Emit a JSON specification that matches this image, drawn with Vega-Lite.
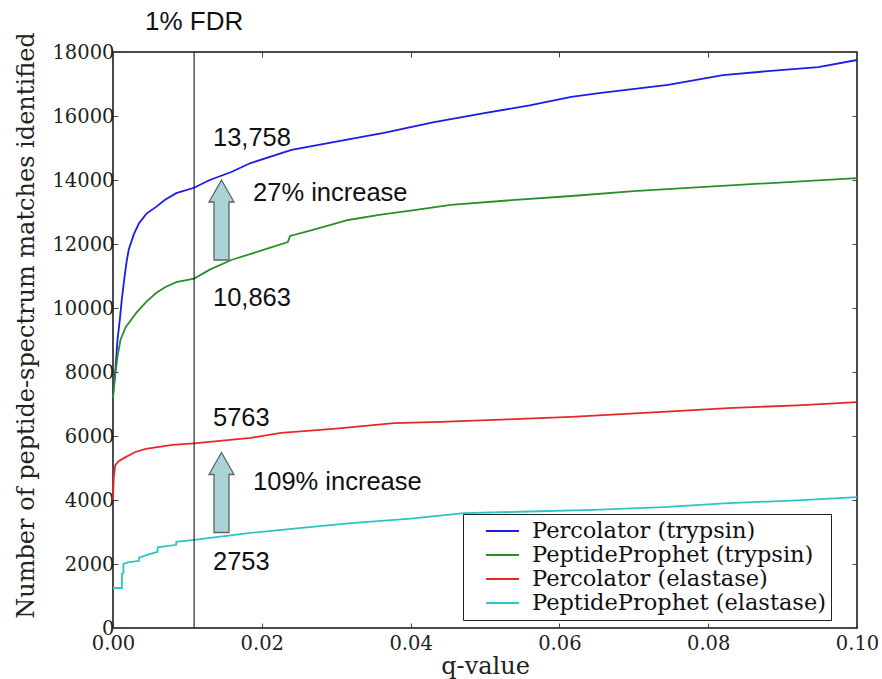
{
  "$schema": "https://vega.github.io/schema/vega-lite/v6.json",
  "width": 744,
  "height": 576,
  "autosize": {"type": "none"},
  "padding": {"left": 113, "top": 52, "right": 25, "bottom": 51},
  "background": "white",
  "config": {
    "view": {"stroke": "#111", "strokeWidth": 1.5},
    "axis": {
      "grid": false, "domain": false,
      "labelFont": "DejaVu Serif", "titleFont": "DejaVu Serif",
      "labelColor": "#222", "titleColor": "#222",
      "tickColor": "#444", "tickSize": -5, "tickWidth": 1,
      "labelFontSize": 19.5, "titleFontSize": 24, "titleFontWeight": "normal"
    }
  },
  "datasets": {
    "curves": [
      {"series": "Percolator (trypsin)", "q": 0.0000, "v": 7300},
      {"series": "Percolator (trypsin)", "q": 0.0003, "v": 8000},
      {"series": "Percolator (trypsin)", "q": 0.0006, "v": 9000},
      {"series": "Percolator (trypsin)", "q": 0.0009, "v": 9600},
      {"series": "Percolator (trypsin)", "q": 0.0012, "v": 10300},
      {"series": "Percolator (trypsin)", "q": 0.0015, "v": 10880},
      {"series": "Percolator (trypsin)", "q": 0.0018, "v": 11400},
      {"series": "Percolator (trypsin)", "q": 0.0021, "v": 11810},
      {"series": "Percolator (trypsin)", "q": 0.0028, "v": 12300},
      {"series": "Percolator (trypsin)", "q": 0.0035, "v": 12650},
      {"series": "Percolator (trypsin)", "q": 0.0045, "v": 12950},
      {"series": "Percolator (trypsin)", "q": 0.0058, "v": 13160},
      {"series": "Percolator (trypsin)", "q": 0.0070, "v": 13380},
      {"series": "Percolator (trypsin)", "q": 0.0085, "v": 13590},
      {"series": "Percolator (trypsin)", "q": 0.0109, "v": 13758},
      {"series": "Percolator (trypsin)", "q": 0.0130, "v": 14000},
      {"series": "Percolator (trypsin)", "q": 0.0159, "v": 14250},
      {"series": "Percolator (trypsin)", "q": 0.0185, "v": 14530},
      {"series": "Percolator (trypsin)", "q": 0.0240, "v": 14940},
      {"series": "Percolator (trypsin)", "q": 0.0300, "v": 15200},
      {"series": "Percolator (trypsin)", "q": 0.0364, "v": 15470},
      {"series": "Percolator (trypsin)", "q": 0.0430, "v": 15800},
      {"series": "Percolator (trypsin)", "q": 0.0499, "v": 16090},
      {"series": "Percolator (trypsin)", "q": 0.0560, "v": 16330},
      {"series": "Percolator (trypsin)", "q": 0.0616, "v": 16600},
      {"series": "Percolator (trypsin)", "q": 0.0656, "v": 16720},
      {"series": "Percolator (trypsin)", "q": 0.0746, "v": 16970},
      {"series": "Percolator (trypsin)", "q": 0.0820, "v": 17280},
      {"series": "Percolator (trypsin)", "q": 0.0880, "v": 17400},
      {"series": "Percolator (trypsin)", "q": 0.0948, "v": 17530},
      {"series": "Percolator (trypsin)", "q": 0.1000, "v": 17750},

      {"series": "PeptideProphet (trypsin)", "q": 0.0000, "v": 7200},
      {"series": "PeptideProphet (trypsin)", "q": 0.0003, "v": 7900},
      {"series": "PeptideProphet (trypsin)", "q": 0.0006, "v": 8470},
      {"series": "PeptideProphet (trypsin)", "q": 0.0010, "v": 9000},
      {"series": "PeptideProphet (trypsin)", "q": 0.0017, "v": 9400},
      {"series": "PeptideProphet (trypsin)", "q": 0.0031, "v": 9840},
      {"series": "PeptideProphet (trypsin)", "q": 0.0045, "v": 10200},
      {"series": "PeptideProphet (trypsin)", "q": 0.0058, "v": 10470},
      {"series": "PeptideProphet (trypsin)", "q": 0.0070, "v": 10650},
      {"series": "PeptideProphet (trypsin)", "q": 0.0085, "v": 10810},
      {"series": "PeptideProphet (trypsin)", "q": 0.0109, "v": 10920},
      {"series": "PeptideProphet (trypsin)", "q": 0.0130, "v": 11200},
      {"series": "PeptideProphet (trypsin)", "q": 0.0159, "v": 11500},
      {"series": "PeptideProphet (trypsin)", "q": 0.0200, "v": 11800},
      {"series": "PeptideProphet (trypsin)", "q": 0.0235, "v": 12060},
      {"series": "PeptideProphet (trypsin)", "q": 0.0238, "v": 12250},
      {"series": "PeptideProphet (trypsin)", "q": 0.0270, "v": 12450},
      {"series": "PeptideProphet (trypsin)", "q": 0.0316, "v": 12750},
      {"series": "PeptideProphet (trypsin)", "q": 0.0360, "v": 12920},
      {"series": "PeptideProphet (trypsin)", "q": 0.0405, "v": 13060},
      {"series": "PeptideProphet (trypsin)", "q": 0.0454, "v": 13220},
      {"series": "PeptideProphet (trypsin)", "q": 0.0530, "v": 13360},
      {"series": "PeptideProphet (trypsin)", "q": 0.0616, "v": 13500},
      {"series": "PeptideProphet (trypsin)", "q": 0.0700, "v": 13650},
      {"series": "PeptideProphet (trypsin)", "q": 0.0835, "v": 13840},
      {"series": "PeptideProphet (trypsin)", "q": 0.1000, "v": 14060},

      {"series": "Percolator (elastase)", "q": 0.0000, "v": 4000},
      {"series": "Percolator (elastase)", "q": 0.0001, "v": 4700},
      {"series": "Percolator (elastase)", "q": 0.0003, "v": 5090},
      {"series": "Percolator (elastase)", "q": 0.0008, "v": 5220},
      {"series": "Percolator (elastase)", "q": 0.0017, "v": 5340},
      {"series": "Percolator (elastase)", "q": 0.0030, "v": 5500},
      {"series": "Percolator (elastase)", "q": 0.0044, "v": 5600},
      {"series": "Percolator (elastase)", "q": 0.0080, "v": 5720},
      {"series": "Percolator (elastase)", "q": 0.0109, "v": 5770},
      {"series": "Percolator (elastase)", "q": 0.0185, "v": 5940},
      {"series": "Percolator (elastase)", "q": 0.0226, "v": 6100},
      {"series": "Percolator (elastase)", "q": 0.0300, "v": 6230},
      {"series": "Percolator (elastase)", "q": 0.0378, "v": 6400},
      {"series": "Percolator (elastase)", "q": 0.0441, "v": 6440},
      {"series": "Percolator (elastase)", "q": 0.0530, "v": 6520},
      {"series": "Percolator (elastase)", "q": 0.0616, "v": 6600},
      {"series": "Percolator (elastase)", "q": 0.0720, "v": 6730},
      {"series": "Percolator (elastase)", "q": 0.0827, "v": 6870},
      {"series": "Percolator (elastase)", "q": 0.0920, "v": 6960},
      {"series": "Percolator (elastase)", "q": 0.1000, "v": 7060},

      {"series": "PeptideProphet (elastase)", "q": 0.0000, "v": 1250},
      {"series": "PeptideProphet (elastase)", "q": 0.0012, "v": 1250},
      {"series": "PeptideProphet (elastase)", "q": 0.0012, "v": 1700},
      {"series": "PeptideProphet (elastase)", "q": 0.0014, "v": 1720},
      {"series": "PeptideProphet (elastase)", "q": 0.0014, "v": 2000},
      {"series": "PeptideProphet (elastase)", "q": 0.0020, "v": 2050},
      {"series": "PeptideProphet (elastase)", "q": 0.0035, "v": 2100},
      {"series": "PeptideProphet (elastase)", "q": 0.0035, "v": 2200},
      {"series": "PeptideProphet (elastase)", "q": 0.0048, "v": 2300},
      {"series": "PeptideProphet (elastase)", "q": 0.0060, "v": 2380},
      {"series": "PeptideProphet (elastase)", "q": 0.0060, "v": 2520},
      {"series": "PeptideProphet (elastase)", "q": 0.0085, "v": 2600},
      {"series": "PeptideProphet (elastase)", "q": 0.0085, "v": 2690},
      {"series": "PeptideProphet (elastase)", "q": 0.0109, "v": 2753},
      {"series": "PeptideProphet (elastase)", "q": 0.0185, "v": 2970},
      {"series": "PeptideProphet (elastase)", "q": 0.0250, "v": 3120},
      {"series": "PeptideProphet (elastase)", "q": 0.0320, "v": 3280},
      {"series": "PeptideProphet (elastase)", "q": 0.0400, "v": 3420},
      {"series": "PeptideProphet (elastase)", "q": 0.0472, "v": 3590},
      {"series": "PeptideProphet (elastase)", "q": 0.0560, "v": 3640},
      {"series": "PeptideProphet (elastase)", "q": 0.0646, "v": 3690},
      {"series": "PeptideProphet (elastase)", "q": 0.0740, "v": 3780},
      {"series": "PeptideProphet (elastase)", "q": 0.0827, "v": 3900},
      {"series": "PeptideProphet (elastase)", "q": 0.0920, "v": 3990},
      {"series": "PeptideProphet (elastase)", "q": 0.1000, "v": 4090}
    ],
    "labels": [
      {"q": 0.01344, "v": 15312, "label": "13,758"},
      {"q": 0.01882, "v": 13594, "label": "27% increase"},
      {"q": 0.01344, "v": 10328, "label": "10,863"},
      {"q": 0.01344, "v": 6578, "label": "5763"},
      {"q": 0.01882, "v": 4562, "label": "109% increase"},
      {"q": 0.01344, "v": 2047, "label": "2753"}
    ],
    "fdr": [{"q": 0.0109, "v": 18922, "label": "1% FDR"}],
    "arrows": [
      {"q": 0.01458, "v": 12750},
      {"q": 0.01458, "v": 4234}
    ],
    "frame": [{"q": 0, "v": 0}]
  },
  "layer": [
    {
      "data": {"name": "curves"},
      "mark": {"type": "line", "strokeWidth": 1.8, "interpolate": "linear"},
      "encoding": {
        "x": {"field": "q", "type": "quantitative",
              "scale": {"domain": [0, 0.1], "nice": false, "zero": false},
              "axis": {"orient": "bottom", "values": [0, 0.02, 0.04, 0.06, 0.08, 0.1], "format": ".2f", "title": "q-value", "labelPadding": 11, "titlePadding": 2, "labelFlush": false}},
        "y": {"field": "v", "type": "quantitative",
              "scale": {"domain": [0, 18000], "nice": false},
              "axis": {"orient": "left", "values": [0, 2000, 4000, 6000, 8000, 10000, 12000, 14000, 16000, 18000], "format": "d", "title": "Number of peptide-spectrum matches identified", "labelPadding": 4, "titlePadding": 13, "titleY": 273}},
        "color": {"field": "series", "type": "nominal",
                  "scale": {"domain": ["Percolator (trypsin)", "PeptideProphet (trypsin)", "Percolator (elastase)", "PeptideProphet (elastase)"],
                            "range": ["#1c1ce6", "#2a8f2a", "#e62828", "#2ec4c4"]},
                  "legend": {"orient": "none", "legendX": 350, "legendY": 462, "title": null,
                             "labelFont": "DejaVu Serif", "labelFontSize": 22.5, "labelColor": "#111", "labelLimit": 500,
                             "symbolType": "stroke", "symbolSize": 1089, "symbolStrokeWidth": 2,
                             "symbolOffset": 17, "labelOffset": 12, "rowPadding": 0, "clipHeight": 24,
                             "strokeColor": "#222", "fillColor": "white", "padding": 5}},
        "order": {"value": null}
      }
    },
    {
      "data": {"name": "fdr"},
      "mark": {"type": "rule", "color": "black", "strokeWidth": 1},
      "encoding": {
        "x": {"field": "q", "type": "quantitative", "axis": null},
        "y": {"datum": 0, "type": "quantitative", "axis": null},
        "y2": {"datum": 18000}
      }
    },
    {
      "data": {"name": "fdr"},
      "mark": {"type": "text", "font": "Liberation Sans", "fontSize": 26, "align": "center", "baseline": "middle", "color": "#111"},
      "encoding": {
        "x": {"field": "q", "type": "quantitative", "axis": null},
        "y": {"field": "v", "type": "quantitative", "axis": null},
        "text": {"field": "label"}
      }
    },
    {
      "data": {"name": "labels"},
      "mark": {"type": "text", "font": "Liberation Sans", "fontSize": 25.5, "align": "left", "baseline": "middle", "color": "#111"},
      "encoding": {
        "x": {"field": "q", "type": "quantitative", "axis": null},
        "y": {"field": "v", "type": "quantitative", "axis": null},
        "text": {"field": "label"}
      }
    },
    {
      "data": {"name": "arrows"},
      "mark": {"type": "point", "filled": true, "shape": "M0,-1L0.3125,-0.45L0.1875,-0.45L0.1875,1L-0.1875,1L-0.1875,-0.45L-0.3125,-0.45Z",
               "size": 6400, "fill": "#a9d3d6", "stroke": "#5a6464", "strokeWidth": 1.3, "opacity": 1, "fillOpacity": 1},
      "encoding": {
        "x": {"field": "q", "type": "quantitative", "axis": null},
        "y": {"field": "v", "type": "quantitative", "axis": null}
      }
    },
    {
      "data": {"name": "frame"},
      "mark": {"type": "point", "opacity": 0},
      "encoding": {
        "x": {"field": "q", "type": "quantitative",
              "axis": {"orient": "top", "values": [0, 0.02, 0.04, 0.06, 0.08, 0.1], "labels": false, "title": null}},
        "y": {"field": "v", "type": "quantitative",
              "axis": {"orient": "right", "values": [0, 2000, 4000, 6000, 8000, 10000, 12000, 14000, 16000, 18000], "labels": false, "title": null}}
      }
    }
  ],
  "resolve": {"axis": {"x": "independent", "y": "independent"}}
}
